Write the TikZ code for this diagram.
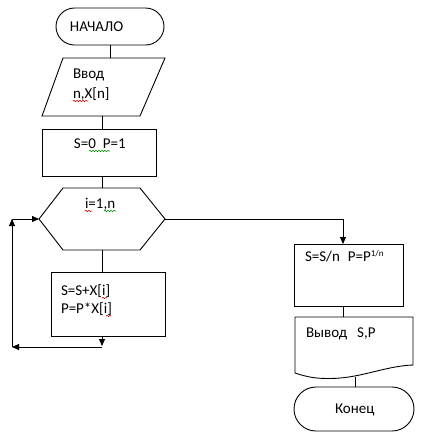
\documentclass[tikz,border=0pt]{standalone}
\usepackage{fontspec}
\setmainfont{Carlito}
\usetikzlibrary{shapes.misc,arrows.meta,decorations.pathmorphing}
\begin{document}
\begin{tikzpicture}[x=1pt,y=-1pt,
  every node/.style={inner sep=0pt, outer sep=0pt},
  line/.style={draw=black, line width=0.9pt},
  arr/.style={line, -{Triangle[length=7pt,width=6pt]}},
  lbl/.style={anchor=base west, font=\fontsize{15}{19}\selectfont},
  term/.style={rounded rectangle, draw, line width=0.9pt},
  proc/.style={rectangle, draw, line width=0.9pt},
  ghost/.style={rectangle, draw=none},
  spellred/.style={draw=red!85!black, line width=0.6pt, decorate, decoration={snake, segment length=3pt, amplitude=0.7pt}},
  spellgreen/.style={draw=green!55!black, line width=0.6pt, decorate, decoration={snake, segment length=3pt, amplitude=0.7pt}}]
\useasboundingbox (0,0) rectangle (422,440);

% shapes
\node[term, minimum width=108pt, minimum height=37pt] (start) at (110,26.5) {};
\node[ghost, minimum width=123pt, minimum height=58pt] (inp) at (102.5,87) {};
\draw[line] (63,58) -- (165,58) -- (140,116) -- (42,116) -- cycle;
\node[proc, minimum width=114pt, minimum height=47pt] (init) at (99,152.5) {};
\node[ghost, minimum width=126pt, minimum height=62pt] (loop) at (102,219) {};
\draw[line] (39,219) -- (63,188) -- (140,188) -- (165,219) -- (140,250) -- (63,250) -- cycle;
\node[proc, minimum width=114pt, minimum height=64pt] (body) at (108,304) {};
\node[proc, minimum width=109pt, minimum height=62pt] (calc) at (348.5,275) {};
\node[ghost, minimum width=119pt, minimum height=60pt] (out) at (354,347) {};
\draw[line] (295,373) -- (295,317) -- (413,317) -- (413,365)
  .. controls (385,366) and (360,378.5) .. (330,378.5)
  .. controls (318,378.5) and (310,378) .. (295,373);
\coordinate (outb) at (355,376.5);
\node[term, minimum width=120pt, minimum height=44pt] (end) at (354,409) {};

% texts
\node[lbl] (t1) at (70,31) {НАЧАЛО};
\node[lbl] (t2) at (73,78) {Ввод};
\node[lbl] (t3) at (73,98) {n,X[n]};
\node[lbl] (t4) at (74,148) {S=0\hspace{7pt}P=1};
\node[lbl] (t5) at (85,208) {i=1,n};
\node[lbl] (t6) at (61,295) {S=S+X[i]};
\node[lbl] (t7) at (61,313) {P=P*X[i]};
\node[lbl] (t8) at (305,261) {S=S/n\hspace{8pt}P=P\raisebox{4.5pt}{\fontsize{9}{9}\selectfont 1/n}};
\node[lbl] (t9) at (306,337) {Вывод\hspace{10pt}S,P};
\node[lbl] (t10) at (335,413) {Конец};

% spell-check marks
\draw[spellred] (73,101) -- (88,101);
\draw[spellgreen] (89,151) -- (110,151);
\draw[spellred] (85,211) -- (92,211);
\draw[spellgreen] (104,211) -- (116,211);
\draw[spellred] (102,298) -- (107,298);
\draw[spellred] (106,316) -- (111,316);

% connectors
\draw[line] (start.south) -- (start.south |- inp.north);
\draw[line] (inp.south) -- (inp.south |- init.north);
\draw[line] (loop.north |- init.south) -- (loop.north);
\draw[line] (loop.south) -- (loop.south |- body.north);
\coordinate (c1) at (102,346);
\coordinate (c2) at (12,347);
\coordinate (c3) at (12,219);
\draw[arr] (loop.south |- body.south) -- (c1);
\draw[arr] (102,347) -- (c2);
\draw[arr] (c2) -- (c3);
\draw[arr] (c3) -- (loop.west);
\coordinate (cn) at (343,244);
\draw[arr] (loop.east) -| (cn);
\draw[line] (cn |- calc.south) -- (cn |- out.north);
\draw[line] (outb) -- (outb |- end.north);
\end{tikzpicture}
\end{document}
